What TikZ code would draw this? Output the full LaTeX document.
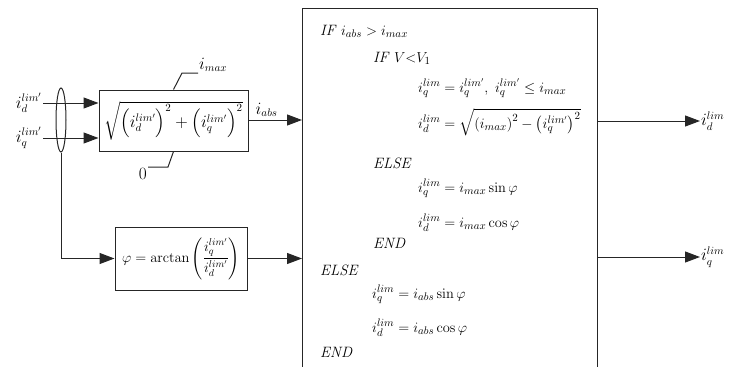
\documentclass[tikz,border=0pt]{standalone}
\usepackage{amsmath}
\usepackage{amssymb}
\usetikzlibrary{calc, positioning}
\usetikzlibrary{arrows.meta}
\usetikzlibrary{shapes.geometric}

\begin{document}
\begin{tikzpicture}[x=1pt, y=-1pt,
  blk/.style={draw=black!85, line width=1pt, inner sep=2pt, font=\fontsize{16}{19}\selectfont},
  wire/.style={draw=black!85, line width=1pt},
  sig/.style={wire, -{Triangle[length=15pt,width=11pt]}},
  txt/.style={font=\fontsize{15}{18}\selectfont, inner sep=0pt},
  lbl/.style={font=\fontsize{16}{19}\selectfont, inner sep=1pt}]
\def\boxL{302}
\def\boxR{597}
\def\boxT{8}
\def\boxB{367}

\useasboundingbox (0,0) rectangle (732,367);

% big logic block, open at the bottom
\coordinate (bigLB) at (\boxL,\boxB);
\coordinate (bigLT) at (\boxL,\boxT);
\coordinate (bigRT) at (\boxR,\boxT);
\coordinate (bigRB) at (\boxR,\boxB);
\draw[wire] (bigLB) -- (bigLT) -- (bigRT) -- (bigRB);

\node[txt, anchor=base west] (l1) at (320,35) {\textit{IF} $i_{abs} > i_{max}$};
\node[txt, anchor=base west] (l2) at (373,62) {\textit{IF} $V{<}V_1$};
\node[txt, anchor=base west] (l3) at (418,92) {$i_q^{lim} = i_q^{lim'},\ i_q^{lim'} \le i_{max}$};
\node[txt, anchor=base west] (l4) at (418,128) {$i_d^{lim} = \sqrt{\left(i_{max}\right)^2 - \left(i_q^{lim'}\right)^2}$};
\node[txt, anchor=base west] (l5) at (373,168) {\textit{ELSE}};
\node[txt, anchor=base west] (l6) at (418,192) {$i_q^{lim} = i_{max}\sin\varphi$};
\node[txt, anchor=base west] (l7) at (418,227) {$i_d^{lim} = i_{max}\cos\varphi$};
\node[txt, anchor=base west] (l8) at (373,248) {\textit{END}};
\node[txt, anchor=base west] (l9) at (320,275) {\textit{ELSE}};
\node[txt, anchor=base west] (l10) at (372,298) {$i_q^{lim} = i_{abs}\sin\varphi$};
\node[txt, anchor=base west] (l11) at (372,332) {$i_d^{lim} = i_{abs}\cos\varphi$};
\node[txt, anchor=base west] (l12) at (320,357) {\textit{END}};

% magnitude and angle blocks
\node[blk, minimum width=149pt, minimum height=61pt] (mag) at (173.5,120.5)
  {$\sqrt{\Bigl(i_d^{lim'}\Bigr)^2+\Bigl(i_q^{lim'}\Bigr)^2}$};
\node[blk, minimum width=132pt, minimum height=63pt, font=\fontsize{14}{17}\selectfont] (ang) at (181,258.5)
  {$\varphi = \arctan\left(\dfrac{i_q^{lim'}}{i_d^{lim'}}\right)$};

% limits of the magnitude block
\coordinate (imaxend) at (198,73);
\coordinate (zeroend) at (148,167);
\draw[wire] (mag.north) -- (182,73) -- (imaxend);
\draw[wire] (mag.south) -- (168,167) -- (zeroend);
\node[lbl, anchor=south west] (imax) at (imaxend) {$i_{max}$};
\node[lbl, anchor=north east] (zero) at (zeroend) {$0$};

% inputs
\coordinate (din) at (43,103);
\coordinate (qin) at (43,138);
\node[lbl, anchor=east] (idin) at (din) {$i_d^{lim'}$};
\node[lbl, anchor=east] (iqin) at (qin) {$i_q^{lim'}$};
\draw[sig] (din) -- (mag.west |- din);
\draw[sig] (qin) -- (mag.west |- qin);
\node[ellipse, wire, minimum width=10pt, minimum height=64pt, inner sep=0pt] (bus) at (61,120) {};
\draw[sig] (bus.south) |- (ang.west);

% into and out of the logic block
\coordinate (absin) at (\boxL,120);
\coordinate (phiin) at (\boxL,258.5);
\draw[sig] (mag.east |- absin) -- (absin);
\node[lbl, anchor=south west] (iabs) at ($(mag.east |- absin)+(6,-2)$) {$i_{abs}$};
\draw[sig] (ang.east) -- (phiin);

\coordinate (dout) at (\boxR,121);
\coordinate (qout) at (\boxR,257);
\coordinate (dend) at (700,121);
\coordinate (qend) at (700,257);
\draw[sig] (dout) -- (dend);
\draw[sig] (qout) -- (qend);
\node[lbl, anchor=west] (idout) at (dend) {$i_d^{lim}$};
\node[lbl, anchor=west] (iqout) at (qend) {$i_q^{lim}$};
\end{tikzpicture}
\end{document}
